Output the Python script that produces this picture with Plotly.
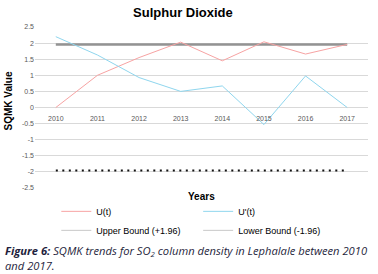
import plotly.graph_objects as go

years = ["2010", "2011", "2012", "2013", "2014", "2015", "2016", "2017"]
u_t = [0.0, 1.0, 1.55, 2.03, 1.45, 2.04, 1.66, 1.96]
u_prime_t = [2.2, 1.63, 0.93, 0.5, 0.67, -0.53, 0.98, 0.0]
upper_bound = [1.96] * 8
lower_bound = [-1.96] * 8
y_tickvals = [2.5, 2, 1.5, 1, 0.5, 0, -0.5, -1, -1.5, -2, -2.5]
y_ticktext = ["2.5", "2", "1.5", "1", "0.5", "0", "-0.5", "-1", "-1.5", "-2", "-2.5"]

fig = go.Figure()
fig.add_trace(go.Scatter(x=years, y=upper_bound, mode="lines", name="Upper Bound (+1.96)",
                         line=dict(color="#939393", width=2.5), showlegend=False))
fig.add_trace(go.Scatter(x=years, y=lower_bound, mode="lines", name="Lower Bound (-1.96)",
                         line=dict(color="#111111", width=2, dash="2px,4.5px"), showlegend=False))
fig.add_trace(go.Scatter(x=years, y=u_t, mode="lines", name="U(t)",
                         line=dict(color="#f7a3a3", width=1), legend="legend"))
fig.add_trace(go.Scatter(x=years, y=u_prime_t, mode="lines", name="U'(t)",
                         line=dict(color="#8fd6ee", width=1), legend="legend2"))
fig.add_trace(go.Scatter(x=[None], y=[None], mode="lines", name="Upper Bound (+1.96)",
                         line=dict(color="#c8c8c8", width=1), legend="legend"))
fig.add_trace(go.Scatter(x=[None], y=[None], mode="lines", name="Lower Bound (-1.96)",
                         line=dict(color="#c8c8c8", width=1), legend="legend2"))

legend_style = dict(orientation="v", yanchor="top", y=-0.055, tracegroupgap=0,
                    font=dict(size=9, color="#000000"), itemwidth=30,
                    bgcolor="rgba(0,0,0,0)")

fig.update_layout(
    width=378, height=274,
    margin=dict(l=35, r=10, t=27, b=86, autoexpand=False),
    paper_bgcolor="white", plot_bgcolor="white",
    font=dict(family="Liberation Sans, Arial, sans-serif", color="#595959", size=7),
    title=dict(text="<b>Sulphur Dioxide</b>", x=0.484, xanchor="center", xref="container",
               y=0.954, yanchor="middle",
               font=dict(size=13, color="#000000", family="Liberation Sans, Arial, sans-serif")),
    xaxis=dict(type="category", range=[-0.5, 7.5], showgrid=False, zeroline=False, showline=False,
               anchor="free", position=0.5, ticks="", tickfont=dict(size=7, color="#595959"),
               ticklabelstandoff=5, fixedrange=True),
    yaxis=dict(range=[-2.5, 2.5], tickvals=y_tickvals, ticktext=y_ticktext, showgrid=True,
               gridcolor="#d9d9d9", gridwidth=1, zeroline=False, showline=False,
               tickfont=dict(size=7, color="#595959"), ticks="", domain=[0, 1]),
    legend=dict(legend_style, x=0.064, xanchor="left"),
    legend2=dict(legend_style, x=0.49, xanchor="left"),
    showlegend=True,
)

fig.add_annotation(text="<b>Years</b>", xref="paper", yref="paper", x=0.5, y=-0.05,
                   xanchor="center", yanchor="middle", showarrow=False,
                   font=dict(size=10, color="#000000"))
fig.add_annotation(text="<b>SQMK Value</b>", xref="paper", x=-0.08, xanchor="center",
                   yref="paper", y=0.54, yanchor="middle", showarrow=False, textangle=-90,
                   font=dict(size=10, color="#000000"))
fig.add_annotation(
    text="<b><i>Figure 6:</i></b><i> SQMK trends for SO<sub>2</sub> column density in Lephalale between 2010<br>and 2017.</i>",
    xref="paper", yref="paper", x=-0.095, y=-0.33, xanchor="left", yanchor="top",
    align="left", showarrow=False,
    font=dict(size=11.2, color="#1f1f3d", family="Open Sans, sans-serif"))

fig.write_html("out.html", config={"displayModeBar": False},
               post_script="document.body.style.margin='0px';")
